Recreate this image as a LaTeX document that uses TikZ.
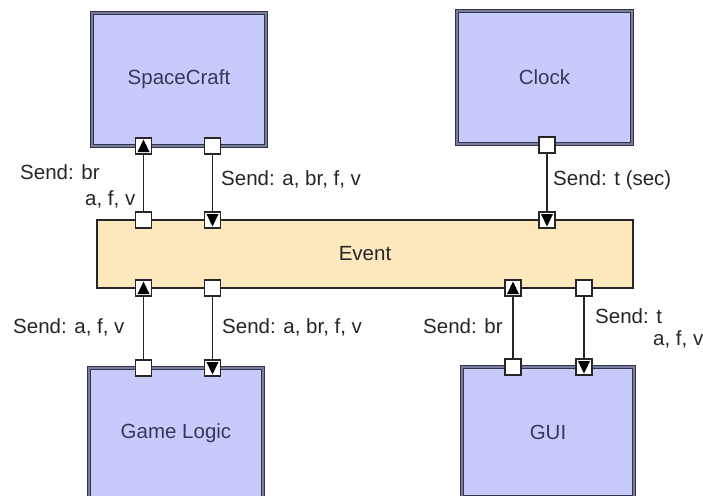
\documentclass[tikz,border=0pt]{standalone}
\usepackage{fontspec}
\setmainfont{Liberation Sans}
\definecolor{boxfill}{HTML}{C7CAFA}
\definecolor{boxdark}{HTML}{30334A}
\definecolor{boxmid}{HTML}{7A7D9E}
\definecolor{boxtext}{HTML}{363958}
\definecolor{evfill}{HTML}{FDE7BD}
\definecolor{ink}{HTML}{262626}
\begin{document}
\begin{tikzpicture}[x=1pt,y=-1pt,
  comp/.style={draw=boxdark, double=boxmid, double distance=1.6pt, line width=1.5pt,
    fill=boxfill, text=boxtext, inner sep=0pt, font=\fontsize{20.5}{24}\selectfont},
  evbox/.style={draw=ink, line width=1.4pt, fill=evfill, text=ink, inner sep=0pt,
    minimum width=536pt, minimum height=68pt, font=\fontsize{20.5}{24}\selectfont},
  port/.style={draw=ink, fill=white, line width=1.1pt, minimum size=16pt, inner sep=0pt},
  portup/.style={port, path picture={\fill[black]
    ([shift={(-6pt,-6pt)}]path picture bounding box.center) --
    ([shift={(6pt,-6pt)}]path picture bounding box.center) --
    ([shift={(0pt,6.5pt)}]path picture bounding box.center) -- cycle;}},
  portdown/.style={port, path picture={\fill[black]
    ([shift={(-6pt,6pt)}]path picture bounding box.center) --
    ([shift={(6pt,6pt)}]path picture bounding box.center) --
    ([shift={(0pt,-6.5pt)}]path picture bounding box.center) -- cycle;}},
  conn/.style={draw=ink, line width=1.6pt},
  lbl/.style={text=ink, inner sep=0pt, font=\fontsize{20.5}{24}\selectfont}]
\clip (0,0) rectangle (703,495);
\fill[white] (0,0) rectangle (703,495);

% components
\node[comp, minimum width=174pt, minimum height=133pt] (sc) at (179,79.5) {SpaceCraft};
\node[comp, minimum width=175pt, minimum height=133pt] (clk) at (544.5,77.5) {Clock};
\node[comp, minimum width=174pt, minimum height=130pt] (gl) at (176,433) {Game Logic};
\node[comp, minimum width=172pt, minimum height=130pt] (gui) at (548,432) {GUI};
\node[evbox] (ev) at (365,254) {Event};

% ports
\node[portup]   (scA) at (143.5,146) {};
\node[port]     (scB) at (212.5,146) {};
\node[port]     (clkA) at (547,145) {};
\node[port]     (evT1) at (143.5,220) {};
\node[portdown] (evT2) at (212.5,220) {};
\node[portdown] (evT3) at (547,220) {};
\node[portup]   (evB1) at (143.5,288) {};
\node[port]     (evB2) at (212.5,288) {};
\node[portup]   (evB3) at (513,288) {};
\node[port]     (evB4) at (584,288) {};
\node[port]     (glA) at (143.5,368) {};
\node[portdown] (glB) at (212.5,368) {};
\node[port]     (guiA) at (513,367) {};
\node[portdown] (guiB) at (584,367) {};

% connectors
\draw[conn] (scA) -- (evT1);
\draw[conn] (scB) -- (evT2);
\draw[conn] (clkA) -- (evT3);
\draw[conn] (evB1) -- (glA);
\draw[conn] (evB2) -- (glB);
\draw[conn] (evB3) -- (guiA);
\draw[conn] (evB4) -- (guiB);

% labels
\node[lbl, anchor=base west] (l1) at (20,179) {Send: br};
\node[lbl, anchor=base west] (l1b) at (85,205) {a, f, v};
\node[lbl, anchor=base west] (l2) at (221,185) {Send: a, br, f, v};
\node[lbl, anchor=base west] (l3) at (553,185) {Send: t (sec)};
\node[lbl, anchor=base west] (l4) at (13,333) {Send: a, f, v};
\node[lbl, anchor=base west] (l5) at (222,333) {Send: a, br, f, v};
\node[lbl, anchor=base west] (l6) at (423,333) {Send: br};
\node[lbl, anchor=base west] (l7) at (595,323) {Send: t};
\node[lbl, anchor=base west] (l7b) at (653,345) {a, f, v};
\end{tikzpicture}
\end{document}
